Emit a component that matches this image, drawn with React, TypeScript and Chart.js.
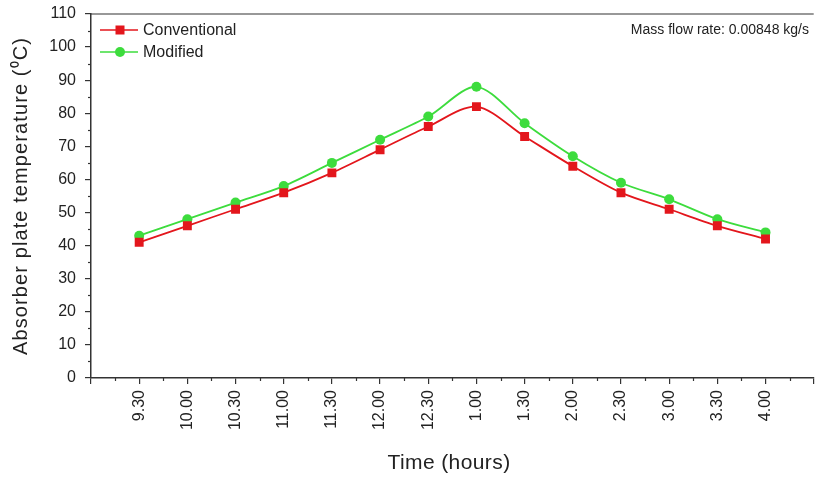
import React, { useEffect, useRef } from "react";
import { Chart, registerables } from "chart.js";

Chart.register(...registerables);

const timeLabels = ["9.30", "10.00", "10.30", "11.00", "11.30", "12.00", "12.30", "1.00", "1.30", "2.00", "2.30", "3.00", "3.30", "4.00"];
const conventional = [41, 46, 51, 56, 62, 69, 76, 82, 73, 64, 56, 51, 46, 42];
const modified = [43, 48, 53, 58, 65, 72, 79, 88, 77, 67, 59, 54, 48, 44];
const yTicks = [0, 10, 20, 30, 40, 50, 60, 70, 80, 90, 100, 110];
const xTitle = "Time (hours)";
const yTitle = "Absorber plate temperature (\u2070C)";
const note = "Mass flow rate: 0.00848 kg/s";

const RED = "#e3161c";
const GREEN = "#3ddc3d";
const FONT = "'Liberation Sans', Arial, sans-serif";

const extrasPlugin = {
  id: "extras",
  afterDraw(chart: any) {
    const { ctx, chartArea } = chart;
    const x = chart.scales.x;
    const y = chart.scales.y;
    ctx.save();
    ctx.strokeStyle = "#333";
    ctx.lineWidth = 1.2;
    // top border
    ctx.beginPath();
    ctx.moveTo(chartArea.left, chartArea.top);
    ctx.lineTo(chartArea.right, chartArea.top);
    ctx.stroke();
    // minor ticks y
    for (let v = 5; v < 110; v += 10) {
      const py = Math.round(y.getPixelForValue(v)) + 0.5;
      ctx.beginPath();
      ctx.moveTo(chartArea.left, py);
      ctx.lineTo(chartArea.left - 3, py);
      ctx.stroke();
    }
    // minor ticks x
    for (let v = 0.5; v < 15; v += 1) {
      const px = Math.round(x.getPixelForValue(v)) + 0.5;
      ctx.beginPath();
      ctx.moveTo(px, chartArea.bottom);
      ctx.lineTo(px, chartArea.bottom + 3);
      ctx.stroke();
    }
    // legend
    const items = [
      { label: "Conventional", color: RED, square: true, y: 30 },
      { label: "Modified", color: GREEN, square: false, y: 52 },
    ];
    ctx.font = `16px ${FONT}`;
    ctx.textBaseline = "middle";
    ctx.textAlign = "left";
    for (const it of items) {
      ctx.strokeStyle = it.color;
      ctx.lineWidth = 1.5;
      ctx.beginPath();
      ctx.moveTo(100, it.y);
      ctx.lineTo(138, it.y);
      ctx.stroke();
      ctx.fillStyle = it.color;
      if (it.square) {
        ctx.fillRect(120 - 4.5, it.y - 4.5, 9, 9);
      } else {
        ctx.beginPath();
        ctx.arc(120, it.y, 5, 0, Math.PI * 2);
        ctx.fill();
      }
      ctx.fillStyle = "#222";
      ctx.fillText(it.label, 143, it.y + 1);
    }
    // annotation
    ctx.font = `14px ${FONT}`;
    ctx.textAlign = "right";
    ctx.fillStyle = "#222";
    ctx.fillText(note, 809, 30);
    // axis titles
    ctx.textAlign = "center";
    ctx.textBaseline = "middle";
    ctx.font = `21px ${FONT}`;
    (ctx as any).letterSpacing = "0.4px";
    ctx.fillText(xTitle, 449, 463);
    ctx.font = `20px ${FONT}`;
    (ctx as any).letterSpacing = "1.1px";
    ctx.translate(21, (chartArea.top + chartArea.bottom) / 2);
    ctx.rotate(-Math.PI / 2);
    ctx.fillText(yTitle, 0, 0);
    ctx.restore();
  },
};

export default function App() {
  const ref = useRef<HTMLCanvasElement>(null);
  useEffect(() => {
    if (!ref.current) return;
    const chart = new Chart(ref.current, {
      type: "line",
      data: {
        datasets: [
          {
            label: "Conventional",
            data: conventional.map((v, i) => ({ x: i + 1, y: v })),
            borderColor: RED,
            backgroundColor: RED,
            borderWidth: 1.8,
            pointStyle: "rect",
            pointRadius: 6.3,
            pointBorderWidth: 0,
            tension: 0.3,
          },
          {
            label: "Modified",
            data: modified.map((v, i) => ({ x: i + 1, y: v })),
            borderColor: GREEN,
            backgroundColor: GREEN,
            borderWidth: 1.8,
            pointStyle: "circle",
            pointRadius: 5,
            pointBorderWidth: 0,
            tension: 0.3,
          },
        ],
      },
      options: {
        animation: false,
        responsive: false,
        layout: { padding: { top: 14, right: 0, left: 0, bottom: 0 } },
        plugins: { legend: { display: false }, tooltip: { enabled: false } },
        scales: {
          x: {
            type: "linear",
            min: 0,
            max: 15,
            afterFit: (s: any) => {
              s.height = 99;
              s.paddingLeft = 0;
              s.paddingRight = 0;
            },
            afterBuildTicks: (s: any) => {
              s.ticks = Array.from({ length: 16 }, (_, i) => ({ value: i }));
            },
            ticks: {
              autoSkip: false,
              minRotation: 90,
              maxRotation: 90,
              padding: 6,
              color: "#222",
              font: { family: FONT, size: 16 },
              callback: (v: any) => (v >= 1 && v <= timeLabels.length ? timeLabels[v - 1] : ""),
            },
            grid: { drawOnChartArea: false, drawTicks: true, tickLength: 6, color: "#333", lineWidth: 1.2 },
            border: { color: "#333", width: 1.5 },
            title: { display: false },
          },
          y: {
            min: 0,
            max: 110,
            afterFit: (s: any) => {
              s.width = 91;
              s.paddingTop = 0;
              s.paddingBottom = 0;
            },
            afterBuildTicks: (s: any) => {
              s.ticks = yTicks.map((v) => ({ value: v }));
            },
            ticks: {
              color: "#222",
              padding: 9,
              font: { family: FONT, size: 16 },
            },
            grid: { drawOnChartArea: false, drawTicks: true, tickLength: 6, color: "#333", lineWidth: 1.2 },
            border: { color: "#333", width: 1.5 },
            title: { display: false },
          },
        },
      },
      plugins: [extrasPlugin],
    } as any);
    return () => chart.destroy();
  }, []);
  return (
    <div style={{ position: "absolute", left: 0, top: 0, width: 815, height: 477, overflow: "hidden" }}>
      <canvas ref={ref} width={820} height={477} style={{ width: 820, height: 477, display: "block" }} />
    </div>
  );
}
